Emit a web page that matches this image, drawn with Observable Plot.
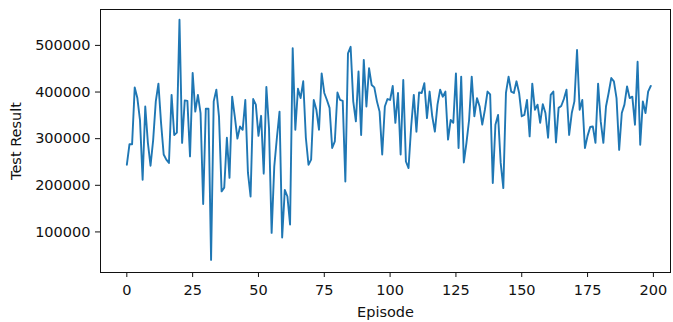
<!DOCTYPE html>
<html>
<head>
<meta charset="utf-8">
<script src="https://cdn.jsdelivr.net/npm/d3@7"></script>
<script src="https://cdn.jsdelivr.net/npm/@observablehq/plot@0.6"></script>
<style>
  html, body { margin: 0; padding: 0; background: #fff; }
  #chart svg { display: block; }
</style>
</head>
<body>
<div id="chart"></div>
<script>
// Test result per episode (in thousands)
const resultsK = [
  244, 288, 288, 410, 387, 340, 212, 369, 291, 242,
  297, 380, 418, 334, 266, 255, 248, 394, 308, 313,
  555, 291, 382, 381, 262, 441, 358, 394, 355, 160,
  364, 364, 40, 380, 405, 348, 187, 195, 302, 216,
  390, 348, 300, 326, 319, 383, 227, 176, 385, 373,
  306, 349, 225, 411, 323, 98, 240, 302, 358, 88,
  190, 176, 116, 494, 319, 407, 387, 423, 302, 244,
  255, 383, 362, 319, 440, 398, 383, 366, 280, 294,
  399, 383, 381, 208, 483, 497, 380, 337, 444, 308,
  469, 369, 451, 415, 410, 380, 358, 266, 369, 385,
  383, 413, 334, 398, 266, 426, 251, 237, 326, 394,
  315, 399, 398, 419, 344, 401, 348, 315, 373, 405,
  390, 401, 298, 340, 334, 440, 280, 433, 249, 291,
  340, 433, 348, 387, 369, 330, 362, 401, 395, 205,
  330, 351, 248, 194, 398, 433, 401, 398, 423, 398,
  348, 351, 383, 305, 418, 362, 373, 334, 374, 355,
  302, 394, 401, 292, 366, 370, 385, 405, 308, 355,
  380, 490, 362, 383, 280, 306, 325, 326, 291, 418,
  337, 291, 369, 398, 430, 423, 387, 276, 355, 373,
  412, 387, 390, 330, 465, 287, 380, 355, 401, 413
];
const xTicks = [0, 25, 50, 75, 100, 125, 150, 175, 200];
const yTicks = [100000, 200000, 300000, 400000, 500000];
const xLabel = "Episode";
const yLabel = "Test Result";

const data = resultsK.map((v, i) => ({episode: i, result: v * 1000}));

const chart = Plot.plot({
  width: 673,
  height: 322,
  marginLeft: 100,
  marginRight: 3,
  marginTop: 9,
  marginBottom: 50,
  style: {fontFamily: "DejaVu Sans", fontSize: "14.5px", color: "#111", background: "white"},
  x: {domain: [-10, 206.5]},
  y: {domain: [13000, 577000]},
  marks: [
    Plot.line(data, {x: "episode", y: "result", stroke: "#1f77b4", strokeWidth: 1.9}),
    Plot.frame({stroke: "#111", strokeWidth: 1}),
    Plot.axisX({ticks: xTicks, tickSize: 5, tickPadding: 7, label: xLabel, labelAnchor: "center", labelArrow: "none", labelOffset: 44}),
    Plot.axisY({ticks: yTicks, tickSize: 5, tickPadding: 5, tickFormat: d3.format("d"), label: yLabel, labelAnchor: "center", labelArrow: "none", labelOffset: 90})
  ]
});
document.getElementById("chart").appendChild(chart);
</script>
</body>
</html>
